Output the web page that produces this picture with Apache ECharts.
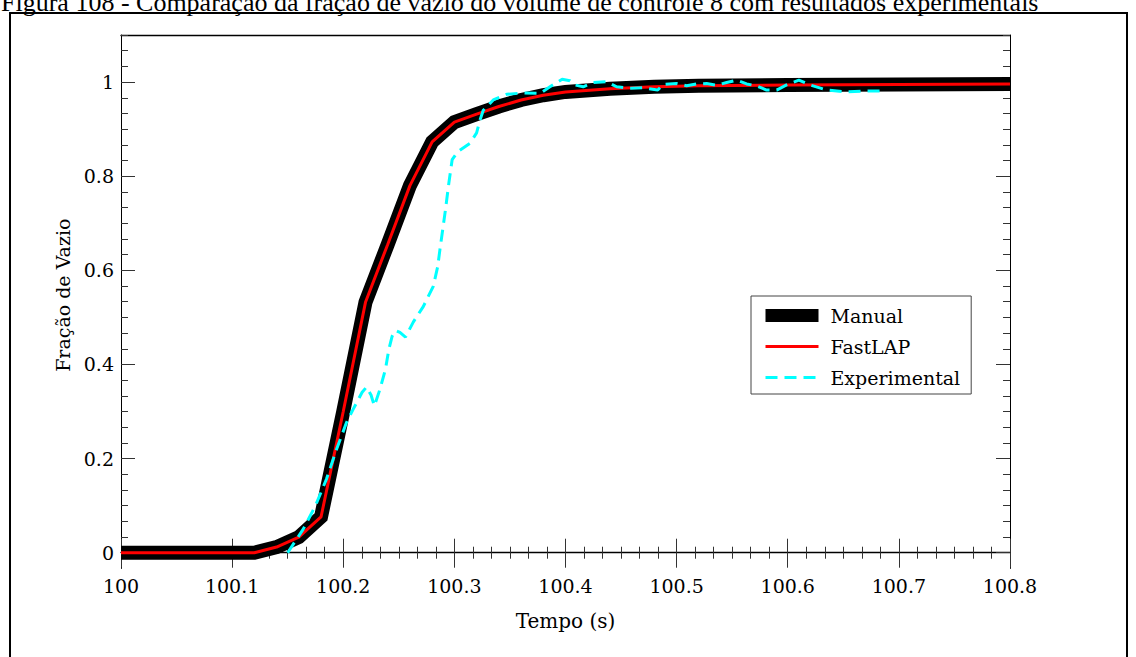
<!DOCTYPE html>
<html lang="pt">
<head>
<meta charset="utf-8">
<title>Fração de vazio</title>
<script src="https://cdn.jsdelivr.net/npm/echarts@6.0.0/dist/echarts.min.js"></script>
<style>
  html, body { margin: 0; padding: 0; background: #fff; }
  #chart { width: 1136px; height: 657px; }
</style>
</head>
<body>
<div id="chart"></div>
<script>
// Tempo (s) e fração de vazio — solução manual
const manualTime = [100, 100.12, 100.14, 100.16, 100.18, 100.2, 100.22, 100.24, 100.26, 100.28, 100.3,
  100.32, 100.34, 100.36, 100.38, 100.4, 100.44, 100.48, 100.52, 100.6, 100.7, 100.8];
const manualFrac = [0, 0, 0.012, 0.033, 0.076, 0.3, 0.532, 0.655, 0.78, 0.873, 0.915,
  0.932, 0.948, 0.962, 0.972, 0.979, 0.986, 0.99, 0.992, 0.994, 0.995, 0.996];

// Solução FastLAP
const fastlapTime = [100, 100.12, 100.14, 100.16, 100.18, 100.2, 100.22, 100.24, 100.26, 100.28, 100.3,
  100.32, 100.34, 100.36, 100.38, 100.4, 100.44, 100.48, 100.52, 100.6, 100.7, 100.8];
const fastlapFrac = [0, 0, 0.012, 0.033, 0.076, 0.3, 0.532, 0.655, 0.78, 0.873, 0.915,
  0.932, 0.948, 0.962, 0.972, 0.979, 0.986, 0.99, 0.992, 0.994, 0.995, 0.996];

// Medições experimentais
const expTime = [100.15, 100.164, 100.175, 100.185, 100.194, 100.203, 100.209, 100.217, 100.221, 100.225,
  100.228, 100.233, 100.238, 100.241, 100.244, 100.247, 100.251, 100.256, 100.263, 100.272,
  100.281, 100.285, 100.287, 100.292, 100.295, 100.298, 100.303, 100.314, 100.32, 100.323,
  100.326, 100.335, 100.347, 100.362, 100.377, 100.386, 100.397, 100.404, 100.408, 100.416,
  100.425, 100.437, 100.446, 100.458, 100.47, 100.483, 100.488, 100.5, 100.509, 100.518,
  100.527, 100.536, 100.545, 100.554, 100.563, 100.572, 100.581, 100.59, 100.599, 100.61,
  100.62, 100.635, 100.653, 100.671, 100.685];
const expFrac = [0, 0.05, 0.1, 0.157, 0.22, 0.277, 0.305, 0.341, 0.352, 0.335,
  0.312, 0.347, 0.39, 0.432, 0.46, 0.472, 0.468, 0.458, 0.49, 0.523,
  0.566, 0.608, 0.644, 0.729, 0.785, 0.835, 0.852, 0.87, 0.892, 0.919,
  0.94, 0.962, 0.974, 0.977, 0.976, 0.99, 1.006, 1.003, 0.994, 0.99,
  0.999, 1.001, 0.99, 0.987, 0.988, 0.983, 0.995, 0.997, 0.992, 0.996,
  0.997, 0.993, 0.999, 1.004, 0.996, 0.992, 0.983, 0.983, 0.994, 1.004,
  0.994, 0.983, 0.979, 0.981, 0.981];

// Marcas do eixo vertical
const yMajorTicks = [0, 0.2, 0.4, 0.6, 0.8, 1];
const yMinorStep = 0.2 / 6;

const titleText = 'Figura 108 - Comparação da fração de vazio do volume de controle 8 com resultados experimentais';
const seriesNames = ['Manual', 'FastLAP', 'Experimental'];

const yMinorTicks = [];
for (let k = 1; k * yMinorStep <= 1.1 + 1e-9; k++) {
  if (k % 6 !== 0) yMinorTicks.push(+(k * yMinorStep).toFixed(6));
}

const pairs = (xs, ys) => xs.map((x, i) => [x, ys[i]]);

const serif = 'DejaVu Serif';
const tickColor = '#333';
const yMin = -yMinorStep;
const yMax = 1.1;

function yAxisDef(position, ticks, len, showLine, labels) {
  return {
    type: 'value', position, min: yMin, max: yMax,
    axisLine: { show: showLine, onZero: false, lineStyle: { color: '#000', width: 1 } },
    axisTick: { show: true, inside: true, length: len, customValues: ticks, lineStyle: { color: tickColor, width: 1 } },
    minorTick: { show: false },
    splitLine: { show: false },
    axisLabel: labels ? { show: true, customValues: ticks, margin: 7, fontFamily: serif, fontSize: 19, color: '#000' } : { show: false }
  };
}

const chart = echarts.init(document.getElementById('chart'), null, { renderer: 'svg' });

chart.setOption({
  animation: false,
  backgroundColor: '#fff',
  grid: { left: 121, right: 126, top: 35, bottom: 88.6, containLabel: false },
  xAxis: [
    {
      type: 'value', position: 'bottom', min: 100, max: 100.8, interval: 0.1,
      axisLine: { show: true, onZero: true, onZeroAxisIndex: 0, lineStyle: { color: '#000', width: 1.3 } },
      axisTick: { show: true, inside: true, length: 14, lineStyle: { color: tickColor, width: 1 } },
      minorTick: { show: true, splitNumber: 6, length: 6, lineStyle: { color: tickColor, width: 1 } },
      splitLine: { show: false },
      axisLabel: { show: true, margin: 8, fontFamily: serif, fontSize: 19, color: '#000' },
      name: 'Tempo (s)', nameLocation: 'middle', nameGap: 43,
      nameTextStyle: { fontFamily: serif, fontSize: 20, color: '#000' }
    },
    {
      type: 'value', position: 'bottom', min: 100, max: 100.8, interval: 0.1,
      axisLine: { show: false, onZero: true, onZeroAxisIndex: 0 },
      axisTick: { show: true, inside: false, length: 15, lineStyle: { color: tickColor, width: 1 } },
      minorTick: { show: true, splitNumber: 6, length: 6, lineStyle: { color: tickColor, width: 1 } },
      splitLine: { show: false },
      axisLabel: { show: false }
    },
    {
      type: 'value', position: 'top', min: 100, max: 100.8,
      axisLine: { show: true, onZero: false, lineStyle: { color: '#000', width: 1.3 } },
      axisTick: { show: false }, splitLine: { show: false }, axisLabel: { show: false }
    }
  ],
  yAxis: [
    Object.assign(yAxisDef('left', yMajorTicks, 14, true, true), {
      name: 'Fração de Vazio', nameLocation: 'middle', nameGap: 42,
      nameTextStyle: { fontFamily: serif, fontSize: 19, color: '#000', padding: [0, 0, 0, 13] }
    }),
    yAxisDef('left', yMinorTicks, 7, false, false),
    yAxisDef('right', yMajorTicks, 14, true, false),
    yAxisDef('right', yMinorTicks, 7, false, false)
  ],
  legend: {
    orient: 'vertical', left: 751, top: 296,
    padding: [10, 11, 7, 8],
    itemWidth: 53, itemHeight: 14, itemGap: 12,
    backgroundColor: '#fff', borderColor: '#444', borderWidth: 1, borderRadius: 0,
    selectedMode: false,
    textStyle: { fontFamily: serif, fontSize: 19, color: '#000', padding: [0, 0, 0, 7] },
    data: [
      { name: seriesNames[0], lineStyle: { width: 13 }, itemStyle: { opacity: 0 } },
      { name: seriesNames[1], lineStyle: { width: 3 }, itemStyle: { opacity: 0 } },
      { name: seriesNames[2], lineStyle: { width: 3 }, itemStyle: { opacity: 0 } }
    ]
  },
  series: [
    {
      name: seriesNames[0], type: 'line', xAxisIndex: 0, yAxisIndex: 0,
      data: pairs(manualTime, manualFrac), symbol: 'none', z: 2,
      itemStyle: { color: '#000' },
      lineStyle: { color: '#000', width: 14, join: 'miter' }
    },
    {
      name: seriesNames[1], type: 'line', xAxisIndex: 0, yAxisIndex: 0,
      data: pairs(fastlapTime, fastlapFrac), symbol: 'none', z: 3,
      itemStyle: { color: '#ff0000' },
      lineStyle: { color: '#ff0000', width: 3 }
    },
    {
      name: seriesNames[2], type: 'line', xAxisIndex: 0, yAxisIndex: 0,
      data: pairs(expTime, expFrac), symbol: 'none', z: 4,
      itemStyle: { color: '#00ffff' },
      lineStyle: { color: '#00ffff', width: 3, type: [12, 7] }
    }
  ],
  graphic: [
    {
      type: 'text', silent: true,
      style: { x: 1, y: 15, text: titleText, fill: '#000', font: '26px "Liberation Serif"', verticalAlign: 'bottom' }
    },
    {
      type: 'polyline', silent: true,
      shape: { points: [[10, 700], [10, 13], [1127, 13], [1127, 700]] },
      style: { stroke: '#000', lineWidth: 2, fill: null }
    }
  ]
});
</script>
</body>
</html>
